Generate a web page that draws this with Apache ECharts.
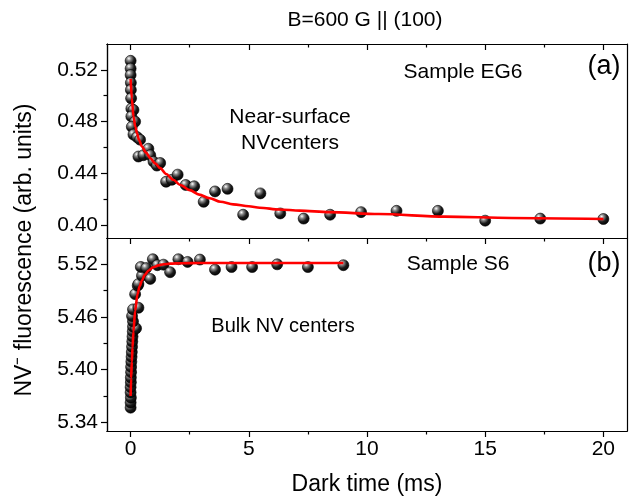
<!DOCTYPE html>
<html>
<head>
<meta charset="utf-8">
<script src="https://cdn.jsdelivr.net/npm/echarts@6/dist/echarts.min.js"></script>
<style>
html, body { margin: 0; padding: 0; background: #fff; }
#main { width: 634px; height: 498px; }
</style>
</head>
<body>
<div id="main"></div>
<script>
// panel (a): near-surface NV, sample EG6  [dark time ms, fluorescence]
var pointsA = [[0,0.527],[0,0.521],[0,0.516],[0.01,0.510],[0.01,0.5045],[0.02,0.498],[0.03,0.490],[0.12,0.489],
    [0.03,0.484],[0.19,0.480],[0.05,0.476],[0.12,0.470],[0.27,0.468],[0.40,0.466],[0.33,0.453],[0.54,0.454],
    [0.75,0.459],[0.83,0.454],[0.97,0.449],[1.11,0.446],[1.25,0.448],[1.5,0.4335],[1.74,0.435],[1.99,0.439],
    [2.33,0.431],[2.69,0.430],[3.09,0.418],[3.57,0.426],[4.1,0.428],[4.76,0.408],[5.49,0.4245],[6.33,0.409],
    [7.32,0.405],[8.44,0.408],[9.75,0.410],[11.25,0.411],[13.0,0.411],[15.0,0.4034],[17.33,0.405],[20.0,0.4047]];
var fitA = [[0,0.513],[0.05,0.498],[0.12,0.484],[0.2,0.476],[0.27,0.471],[0.35,0.466],[0.48,0.4607],[0.65,0.456],
    [0.83,0.4517],[1.05,0.4475],[1.25,0.444],[1.5,0.4395],[1.8,0.435],[2.1,0.431],[2.5,0.427],[2.9,0.4235],
    [3.35,0.4207],[3.8,0.418],[4.34,0.416],[5,0.4145],[5.46,0.4134],[6.3,0.412],[7.15,0.4112],[8.4,0.410],
    [10.5,0.4085],[13.3,0.4065],[16.1,0.4055],[20,0.4047]];

// panel (b): bulk NV, sample S6
var pointsB = [[0,5.3566],[0,5.3624],[0.01,5.368],[0,5.374],[0,5.380],[0.01,5.3856],[0.01,5.391],[0.02,5.397],
    [0.02,5.403],[0.03,5.409],[0.04,5.4145],[0.05,5.420],[0.06,5.426],[0.07,5.432],[0.08,5.4377],[0.09,5.4435],
    [0.1,5.449],[0.23,5.447],[0.1,5.455],[0.06,5.461],[0.1,5.4686],[0.33,5.4705],[0.19,5.486],[0.3,5.4957],
    [0.33,5.4976],[0.48,5.507],[0.43,5.517],[0.66,5.5157],[0.83,5.5034],[0.94,5.5258],[1.13,5.519],[1.39,5.5196],
    [1.67,5.511],[2.02,5.5258],[2.41,5.5227],[2.93,5.5254],[3.57,5.5139],[4.27,5.5169],[5.14,5.5169],[6.2,5.520],
    [7.5,5.5169],[9.0,5.519]];
var fitB = [[0,5.370],[0.02,5.39],[0.05,5.409],[0.08,5.425],[0.12,5.4435],[0.19,5.4667],[0.29,5.486],[0.38,5.495],
    [0.48,5.5015],[0.6,5.508],[0.76,5.513],[0.95,5.5165],[1.18,5.5188],[1.4,5.520],[1.67,5.5208],[2.2,5.5213],
    [2.93,5.5215],[9,5.5215]];

var xMajor = [0, 5, 10, 15, 20];
var xMinor = [2.5, 7.5, 12.5, 17.5];
var yMajorA = [0.40, 0.44, 0.48, 0.52];
var yMinorA = [0.42, 0.46, 0.50];
var yMajorB = [5.34, 5.40, 5.46, 5.52];
var yMinorB = [5.37, 5.43, 5.49];

var chart = echarts.init(document.getElementById('main'));
var FONT = 'Liberation Sans, Arial, sans-serif';
var lineStyle = { color: '#000', width: 1.2 };

function xAx(grid, pos, ticks, len, inside, labels) {
    return {
        type: 'value', gridIndex: grid, position: pos, min: -1, max: 21,
        axisLine: { show: true, onZero: false, lineStyle: lineStyle },
        axisTick: { show: !!ticks, inside: inside, length: len, customValues: ticks || [], lineStyle: lineStyle },
        axisLabel: labels ? { show: true, customValues: ticks, color: '#000', fontSize: 21, fontFamily: FONT, margin: 8 } : { show: false },
        splitLine: { show: false }
    };
}
function yAx(grid, pos, min, max, ticks, len, labels) {
    return {
        type: 'value', gridIndex: grid, position: pos, min: min, max: max,
        axisLine: { show: true, onZero: false, lineStyle: lineStyle },
        axisTick: { show: !!ticks, length: len, customValues: ticks || [], lineStyle: lineStyle },
        axisLabel: labels ? {
            show: true, customValues: ticks, color: '#000', fontSize: 21, fontFamily: FONT, margin: 9,
            formatter: function (v) { return v.toFixed(2); }
        } : { show: false },
        splitLine: { show: false }
    };
}

var ball = new echarts.graphic.RadialGradient(0.35, 0.3, 0.75, [
    { offset: 0, color: '#ffffff' },
    { offset: 0.25, color: '#8a8a8a' },
    { offset: 0.6, color: '#1a1a1a' },
    { offset: 1, color: '#000000' }
]);

function dots(xi, yi, data) {
    return {
        type: 'scatter', xAxisIndex: xi, yAxisIndex: yi, data: data, symbolSize: 11, z: 2,
        itemStyle: { color: ball, borderColor: '#000', borderWidth: 0.6, opacity: 1 }
    };
}
function fit(xi, yi, data) {
    return {
        type: 'line', xAxisIndex: xi, yAxisIndex: yi, data: data, symbol: 'none', smooth: 0.3,
        smoothMonotone: 'x', z: 3, lineStyle: { color: '#ff0000', width: 2.6 }
    };
}
function txt(s, x, y, size, rot) {
    return {
        type: 'text', x: x, y: y, rotation: rot || 0, z: 10,
        style: { text: s, fill: '#000', font: size + 'px ' + FONT, textAlign: 'center', textVerticalAlign: 'middle' }
    };
}

var option = {
    backgroundColor: '#fff',
    animation: false,
    grid: [
        { left: 107, right: 7, top: 44, height: 194 },
        { left: 107, right: 7, top: 238, height: 193 }
    ],
    xAxis: [
        xAx(0, 'bottom', null, 0, false, false),
        xAx(0, 'top', xMajor, 6, true, false),
        xAx(0, 'top', xMinor, 3.5, true, false),
        Object.assign(xAx(1, 'bottom', xMajor, 6, false, true), {
            name: 'Dark time (ms)', nameLocation: 'middle', nameGap: 42,
            nameTextStyle: { color: '#000', fontSize: 23, fontFamily: FONT }
        }),
        xAx(1, 'bottom', xMinor, 3.5, false, false),
        xAx(1, 'top', xMajor, 6, true, false),
        xAx(1, 'top', xMinor, 3.5, true, false)
    ],
    yAxis: [
        yAx(0, 'left', 0.39, 0.54, yMajorA, 6, true),
        yAx(0, 'left', 0.39, 0.54, yMinorA, 3.5, false),
        yAx(0, 'right', 0.39, 0.54, null, 0, false),
        yAx(1, 'left', 5.33, 5.55, yMajorB, 6, true),
        yAx(1, 'left', 5.33, 5.55, yMinorB, 3.5, false),
        yAx(1, 'right', 5.33, 5.55, null, 0, false)
    ],
    graphic: [
        txt('B=600 G || (100)', 365, 20, 21),
        txt('Sample EG6', 463, 72, 21),
        txt('(a)', 604, 67, 27),
        txt('Near-surface', 290, 117, 21),
        txt('NVcenters', 290, 143, 21),
        txt('Sample S6', 458, 264, 21),
        txt('(b)', 604, 264, 27),
        txt('Bulk NV centers', 283, 326, 20),
        txt('NV\u207B fluorescence (arb. units)', 25, 250, 23, Math.PI / 2)
    ],
    series: [
        fit(0, 0, fitA),
        dots(0, 0, pointsA),
        fit(3, 3, fitB),
        dots(3, 3, pointsB)
    ]
};
chart.setOption(option);
</script>
</body>
</html>
